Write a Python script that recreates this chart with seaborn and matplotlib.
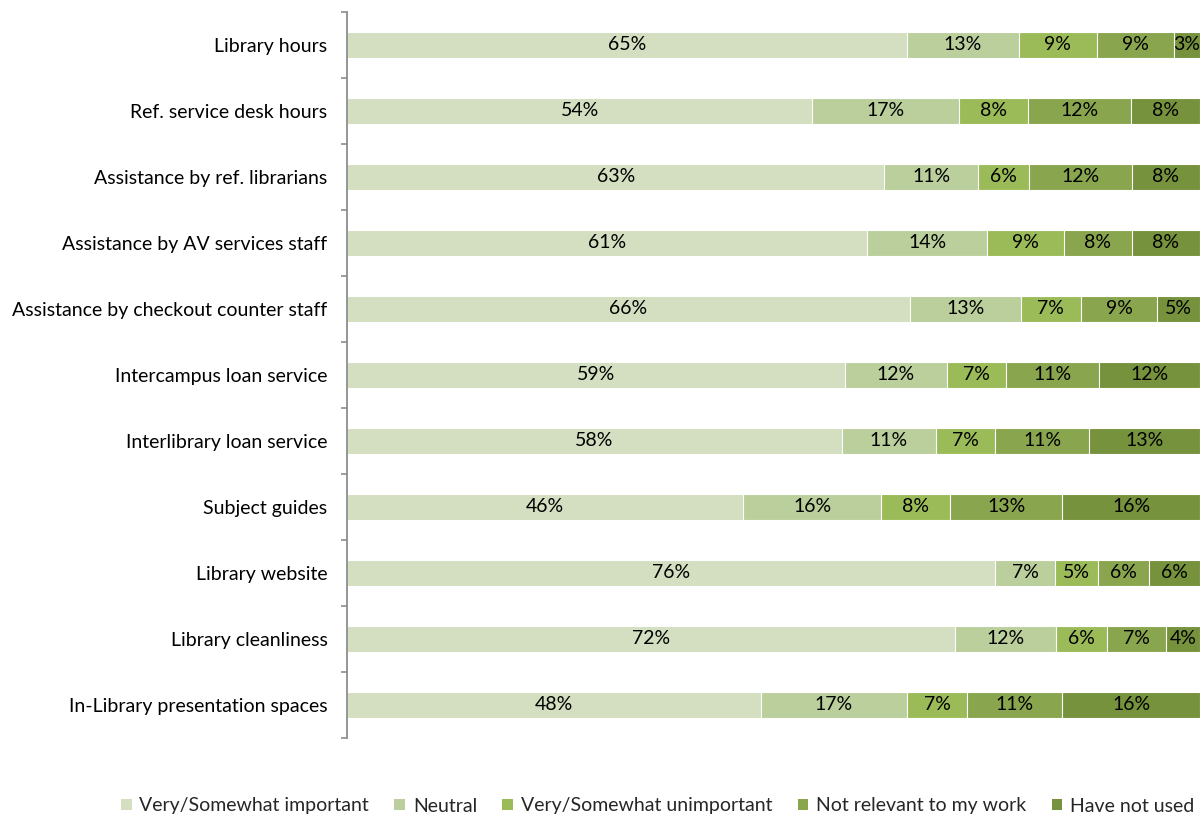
import matplotlib
matplotlib.use("Agg")
import matplotlib.pyplot as plt
from matplotlib.patches import Patch
from matplotlib.ticker import FixedLocator
import numpy as np
import pandas as pd
import seaborn as sns

categories = [
    "Library hours",
    "Ref. service desk hours",
    "Assistance by ref. librarians",
    "Assistance by AV services staff",
    "Assistance by checkout counter staff",
    "Intercampus loan service",
    "Interlibrary loan service",
    "Subject guides",
    "Library website",
    "Library cleanliness",
    "In-Library presentation spaces",
]
series_names = [
    "Very/Somewhat important",
    "Neutral",
    "Very/Somewhat unimportant",
    "Not relevant to my work",
    "Have not used",
]
important = [65, 54, 63, 61, 66, 59, 58, 46, 76, 72, 48]
neutral = [13, 17, 11, 14, 13, 12, 11, 16, 7, 12, 17]
unimportant = [9, 8, 6, 9, 7, 7, 7, 8, 5, 6, 7]
not_relevant = [9, 12, 12, 8, 9, 11, 11, 13, 6, 7, 11]
not_used = [3, 8, 8, 8, 5, 12, 13, 16, 6, 4, 16]

colors = ["#D3DFC0", "#BACF9C", "#9BBB59", "#89A54E", "#76923C"]

sns.set_theme(style="white")
plt.rcParams["font.family"] = ["Lato", "DejaVu Sans"]
FS = 14

vals = np.array([important, neutral, unimportant, not_relevant, not_used], dtype=float)
shares = vals / vals.sum(axis=0) * 100
cums = np.cumsum(shares, axis=0)

fig = plt.figure(figsize=(12, 8.16), dpi=100)
ax = fig.add_axes([347 / 1200, 1 - 738 / 816, 1 - 347 / 1200, 726 / 816])

for k in range(len(series_names) - 1, -1, -1):
    df = pd.DataFrame({"cat": categories, "val": cums[k]})
    sns.barplot(data=df, x="val", y="cat", orient="h", color=colors[k],
                saturation=1, width=0.4, edgecolor="white", linewidth=0.8,
                ax=ax, errorbar=None)

for k in range(len(series_names)):
    for i in range(len(categories)):
        left = cums[k - 1][i] if k > 0 else 0
        center = (left + cums[k][i]) / 2
        ax.text(center, i, f"{int(vals[k][i])}%", ha="center", va="center",
                fontsize=FS, color="black")

ax.set_xlim(0, 100)
ax.set_ylim(len(categories) - 0.5, -0.5)
ax.set_xlabel("")
ax.set_ylabel("")
ax.set_xticks([])
ax.set_yticks(range(len(categories)))
ax.set_yticklabels(categories, fontsize=FS, color="black")
ax.yaxis.set_minor_locator(FixedLocator(np.arange(-0.5, len(categories), 1.0)))
ax.tick_params(axis="y", which="major", length=0, pad=14)
ax.tick_params(axis="y", which="minor", length=4.5, width=1.2, color="#8c8c8c",
               direction="out", left=True)
for s in ["top", "right", "bottom"]:
    ax.spines[s].set_visible(False)
ax.spines["left"].set_color("#8c8c8c")
ax.spines["left"].set_linewidth(1.3)

handles = [Patch(facecolor=c, edgecolor="none") for c in colors]
fig.legend(handles, series_names, loc="center", bbox_to_anchor=(0.548, 1 - 806 / 816),
           ncol=5, frameon=False, fontsize=FS, handlelength=0.55, handleheight=0.55,
           handletextpad=0.4, columnspacing=1.3)

fig.savefig("out.png", dpi=100)
